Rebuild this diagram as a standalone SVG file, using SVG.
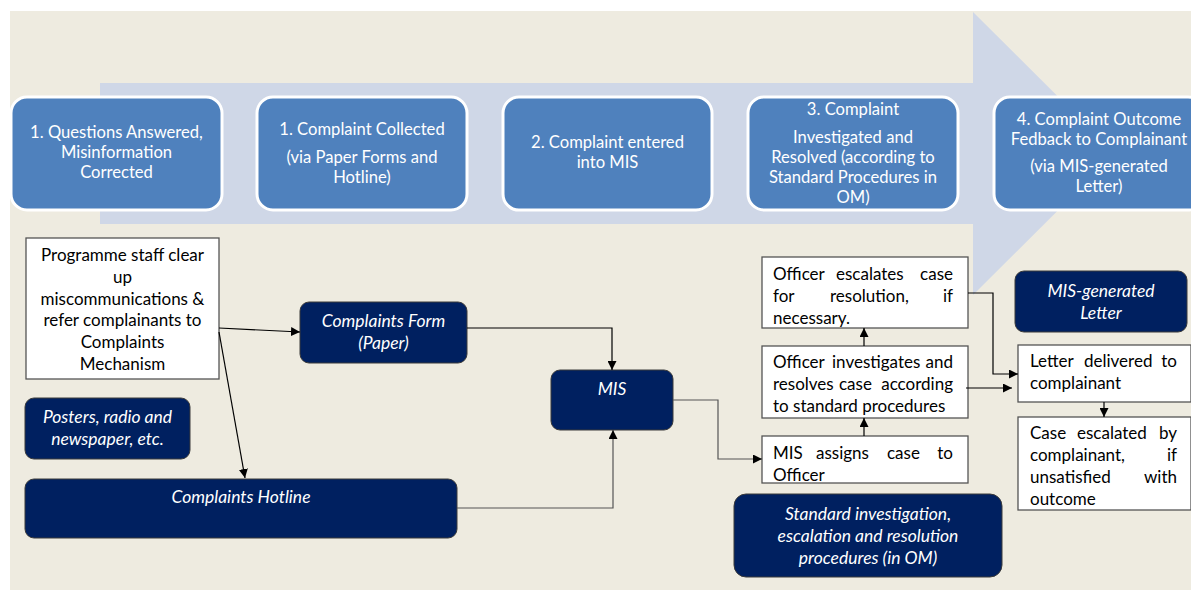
<svg xmlns="http://www.w3.org/2000/svg" width="1191" height="590" viewBox="0 0 1191 590">
<defs>
<marker id="ah" viewBox="0 0 10 10" refX="10" refY="5" markerWidth="9" markerHeight="9" markerUnits="userSpaceOnUse" orient="auto">
<path d="M0,0 L10,5 L0,10 z" fill="#000"/>
</marker>
<style>
.stage rect{fill:#4F81BD;stroke:#fff;stroke-width:3}
.stage text{fill:#fff;font-family:Lato,"Liberation Sans",sans-serif;font-size:16.6px;text-anchor:middle}
.navy rect{fill:#002060;stroke:#3a3a3a;stroke-width:1}
.navy text{fill:#fff;font-family:Lato,"Liberation Sans",sans-serif;font-size:17.5px;font-style:italic;text-anchor:middle}
.wbox rect{fill:#fff;stroke:#555;stroke-width:1.3}
.wbox text{fill:#000;font-family:Lato,"Liberation Sans",sans-serif;font-size:17px}
.c{fill:none;stroke:#000;stroke-width:1.2;marker-end:url(#ah)}
.g{stroke:#555}
.e{text-anchor:end}
.m{text-anchor:middle}
</style>
</defs>
<rect x="0" y="0" width="1191" height="590" fill="#fff"/>
<rect x="10" y="11" width="1181" height="579" fill="#EEEBE0"/>
<polygon points="100,83 973,83 973,12 1115,153.5 973,295 973,224 100,224" fill="#CFD7E7"/>

<g id="stage1" class="stage"><rect x="11" y="97" width="211" height="113" rx="16"/>
<text x="116.5" y="138">1. Questions Answered,</text><text x="116.5" y="158">Misinformation</text><text x="116.5" y="178">Corrected</text></g>
<g id="stage2" class="stage"><rect x="257" y="97" width="210" height="113" rx="16"/>
<text x="362" y="135">1. Complaint Collected</text><text x="362" y="163">(via Paper Forms and</text><text x="362" y="183">Hotline)</text></g>
<g id="stage3" class="stage"><rect x="503" y="97" width="209" height="113" rx="16"/>
<text x="607.5" y="148">2. Complaint entered</text><text x="607.5" y="168">into MIS</text></g>
<g id="stage4" class="stage"><rect x="748" y="97" width="210" height="113" rx="16"/>
<text x="853" y="115">3. Complaint</text><text x="853" y="143">Investigated and</text><text x="853" y="163">Resolved (according to</text><text x="853" y="183">Standard Procedures in</text><text x="853" y="203">OM)</text></g>
<g id="stage5" class="stage"><rect x="994" y="97" width="210" height="113" rx="16"/>
<text x="1099" y="125">4. Complaint Outcome</text><text x="1099" y="145">Fedback to Complainant</text><text x="1099" y="172">(via MIS-generated</text><text x="1099" y="192">Letter)</text></g>

<g id="programme" class="wbox"><rect x="26" y="238" width="193" height="141"/>
<text class="m" x="122.5" y="261">Programme staff clear</text><text class="m" x="122.5" y="283">up</text><text class="m" x="122.5" y="305">miscommunications &amp;</text><text class="m" x="122.5" y="326">refer complainants to</text><text class="m" x="122.5" y="348">Complaints</text><text class="m" x="122.5" y="370">Mechanism</text></g>

<g id="form" class="navy"><rect x="300" y="302" width="167" height="61" rx="9"/>
<text x="383.5" y="327">Complaints Form</text><text x="383.5" y="349">(Paper)</text></g>
<g id="posters" class="navy"><rect x="25" y="398" width="165" height="61" rx="9"/>
<text x="107.5" y="423">Posters, radio and</text><text x="107.5" y="445">newspaper, etc.</text></g>
<g id="hotline" class="navy"><rect x="25" y="479" width="432" height="59" rx="9"/>
<text x="241" y="503">Complaints Hotline</text></g>
<g id="mis" class="navy"><rect x="551" y="370" width="122" height="60" rx="9"/>
<text x="612" y="395">MIS</text></g>
<g id="standard" class="navy"><rect x="734" y="494" width="268" height="83" rx="12"/>
<text x="868" y="520">Standard investigation,</text><text x="868" y="542">escalation and resolution</text><text x="868" y="564">procedures (in OM)</text></g>
<g id="misletter" class="navy"><rect x="1015" y="271" width="172" height="61" rx="9"/>
<text x="1101" y="297">MIS-generated</text><text x="1101" y="319">Letter</text></g>

<g id="escalates" class="wbox"><rect x="762" y="257" width="206" height="71"/>
<text x="773" y="280">Officer</text><text x="836" y="280">escalates</text><text class="e" x="953" y="280">case</text>
<text x="773" y="302">for</text><text x="830" y="302">resolution,</text><text class="e" x="953" y="302">if</text>
<text x="773" y="324">necessary.</text></g>
<g id="investigates" class="wbox"><rect x="762" y="346" width="206" height="72"/>
<text x="773" y="368">Officer</text><text x="832" y="368">investigates</text><text class="e" x="953" y="368">and</text>
<text x="773" y="390">resolves</text><text x="839" y="390">case</text><text class="e" x="953" y="390">according</text>
<text x="773" y="412">to standard procedures</text></g>
<g id="assigns" class="wbox"><rect x="762" y="436" width="206" height="47"/>
<text x="773" y="459">MIS</text><text x="816" y="459">assigns</text><text x="887" y="459">case</text><text class="e" x="953" y="459">to</text>
<text x="773" y="481">Officer</text></g>
<g id="delivered" class="wbox"><rect x="1018" y="345" width="173" height="57"/>
<text x="1030" y="367">Letter</text><text x="1084" y="367">delivered</text><text class="e" x="1177" y="367">to</text>
<text x="1030" y="389">complainant</text></g>
<g id="escalated" class="wbox"><rect x="1018" y="417" width="173" height="93"/>
<text x="1030" y="439">Case</text><text x="1077" y="439">escalated</text><text class="e" x="1177" y="439">by</text>
<text x="1030" y="461">complainant,</text><text class="e" x="1177" y="461">if</text>
<text x="1030" y="483">unsatisfied</text><text class="e" x="1177" y="483">with</text>
<text x="1030" y="505">outcome</text></g>

<g id="connectors">
<path class="c" d="M219,328 L300,332"/>
<path class="c" d="M219,332 L245,478"/>
<path class="c" d="M467,328 H612 V370"/>
<path class="c g" d="M457,508 H613 V430"/>
<path class="c g" d="M673,400 H718 V459 H762"/>
<path class="c" d="M864,436 V418"/>
<path class="c" d="M864,346 V328"/>
<path class="c" d="M968,293 H993 V374 H1018"/>
<path class="c" d="M966,388 H1012"/>
<path class="c" d="M1104,402 V417"/>
</g>
</svg>
